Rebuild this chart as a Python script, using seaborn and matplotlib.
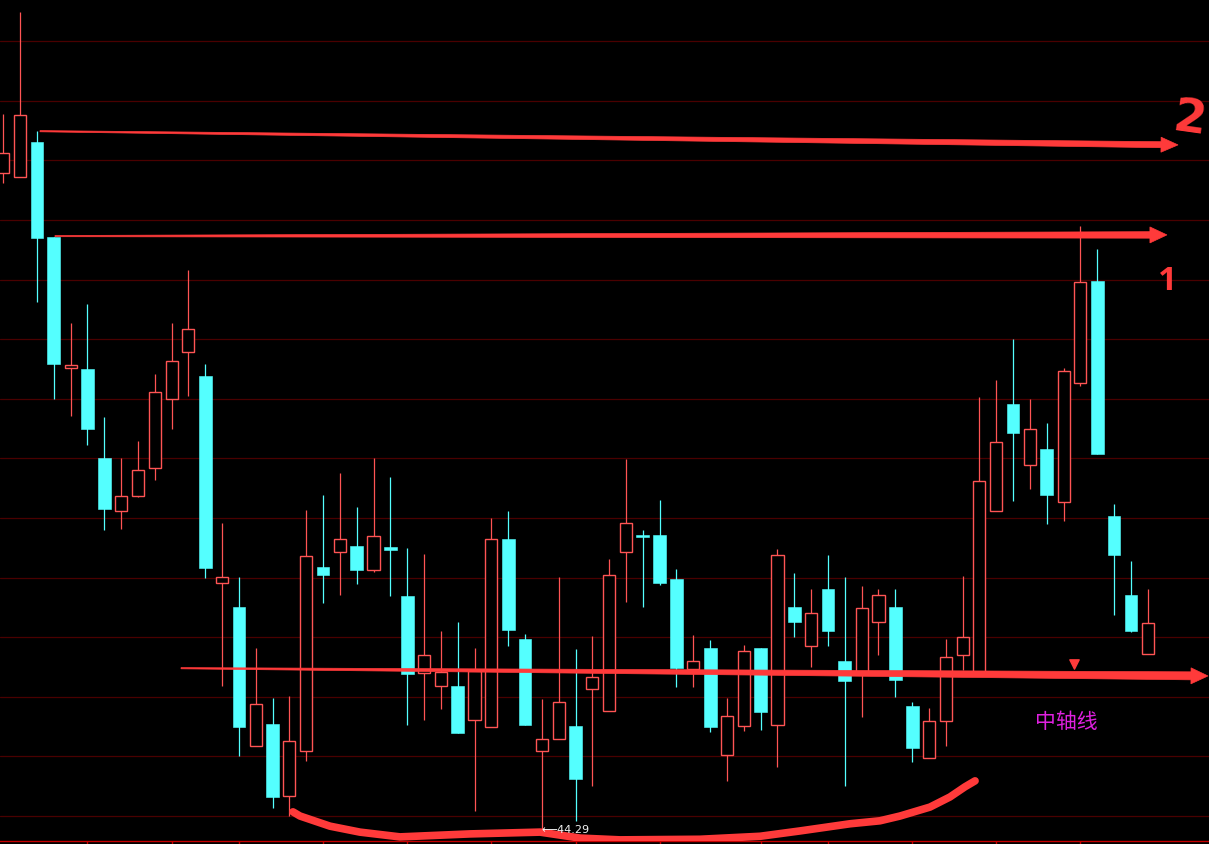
import numpy as np
import pandas as pd
import matplotlib
matplotlib.use("Agg")
import matplotlib.pyplot as plt
from matplotlib.patches import Polygon
from matplotlib.transforms import IdentityTransform
import seaborn as sns

# daily candles (price units)
opens = [55.29, 55.22, 55.81, 54.21, 52.02, 52.00, 50.51, 49.62, 49.87, 50.34,
         51.50, 52.29, 51.88, 48.41, 48.01, 45.67, 46.04, 44.84, 45.59, 48.68,
         48.93, 49.03, 48.63, 49.01, 48.19, 46.90, 46.68, 46.68, 46.11, 45.99,
         49.15, 47.47, 45.59, 45.79, 46.01, 46.63, 46.26, 48.93, 49.21, 49.21,
         48.48, 46.97, 47.32, 45.52, 46.01, 47.32, 46.03, 48.01, 47.35, 48.31,
         47.10, 46.92, 47.75, 48.01, 46.35, 45.47, 46.09, 47.20, 46.87, 49.62,
         51.41, 50.39, 50.66, 49.77, 51.77, 53.48, 49.53, 48.21, 47.22]
closes = [55.62, 56.26, 54.20, 52.08, 52.07, 50.99, 49.65, 49.87, 50.31, 51.61,
          52.13, 52.67, 48.66, 48.51, 45.99, 46.38, 44.82, 45.76, 48.86, 48.54,
          49.15, 48.63, 49.20, 48.96, 46.88, 47.20, 46.92, 45.89, 46.93, 49.15,
          47.62, 46.03, 45.79, 46.41, 45.12, 46.83, 48.54, 49.42, 49.18, 48.41,
          46.98, 47.10, 45.99, 46.18, 47.27, 46.24, 48.88, 47.75, 47.91, 47.60,
          46.76, 47.99, 48.21, 46.78, 45.64, 46.09, 47.17, 47.50, 50.12, 50.78,
          50.93, 50.99, 49.89, 51.97, 53.46, 50.57, 48.88, 47.60, 47.74]
highs = [56.28, 57.99, 55.99, 54.21, 52.77, 53.09, 51.19, 50.51, 50.79, 51.92,
         52.77, 53.66, 52.08, 49.42, 48.51, 47.32, 46.48, 46.51, 49.63, 49.89,
         50.25, 49.68, 50.51, 50.19, 49.00, 48.90, 47.60, 47.75, 47.32, 49.50,
         49.62, 47.55, 46.46, 48.51, 47.30, 47.52, 48.81, 50.49, 49.30, 49.80,
         48.64, 47.54, 47.45, 46.48, 47.37, 47.32, 48.98, 48.58, 48.31, 48.88,
         48.51, 48.36, 48.31, 48.31, 46.41, 46.31, 47.47, 48.53, 51.53, 51.82,
         52.50, 51.50, 51.09, 52.02, 54.40, 54.01, 49.73, 48.78, 48.31]
lows = [55.12, 55.22, 53.12, 51.50, 51.21, 50.72, 49.30, 49.32, 49.85, 50.14,
        50.99, 51.55, 48.49, 46.68, 45.51, 45.67, 44.63, 44.50, 45.42, 48.07,
        48.21, 48.39, 48.59, 48.19, 46.03, 46.11, 46.30, 45.89, 44.58, 45.99,
        47.35, 46.03, 44.29, 45.79, 44.42, 45.00, 46.26, 48.09, 48.01, 48.38,
        46.66, 46.66, 45.91, 45.09, 45.93, 45.94, 45.32, 47.50, 47.00, 47.35,
        45.00, 46.16, 47.20, 46.50, 45.41, 45.47, 45.67, 46.95, 46.87, 49.62,
        49.79, 49.99, 49.40, 49.45, 51.71, 50.57, 47.87, 47.59, 47.22]

grid_levels = [44.5 + k for k in range(14)]
date_ticks = [5, 10, 14, 19, 24, 29, 34, 39, 45, 49, 54, 59, 64]

low_label = "\u27f544.29"
low_idx = 32

# hand drawn marks: (start, tip) in (candle index, price)
arrow_top = ((2.18, 55.99), (69.80, 55.76))
arrow_mid = ((3.07, 54.23), (69.14, 54.25))
arrow_axis = ((10.56, 46.98), (71.58, 46.85))
smile_x = [17.21, 17.63, 19.41, 21.19, 23.57, 27.73, 31.89, 34.27, 36.64, 41.40,
           44.96, 47.34, 50.31, 52.09, 53.28, 55.06, 56.25, 57.14, 57.74]
smile_y = [44.57, 44.50, 44.33, 44.23, 44.15, 44.20, 44.23, 44.13, 44.10, 44.11,
           44.16, 44.25, 44.37, 44.42, 44.50, 44.65, 44.82, 44.99, 45.09]
marker_pos = (63.62, 47.05)

UP = "#ff5454"
DOWN = "#54ffff"
PEN = "#ff3a3a"

df = pd.DataFrame({"open": opens, "close": closes, "high": highs, "low": lows})
df["idx"] = np.arange(len(df))
df["up"] = df["close"] >= df["open"]
df["bottom"] = df[["open", "close"]].min(axis=1)
df["height"] = (df["close"] - df["open"]).abs().clip(lower=0.03)

sns.set_theme(style="dark", rc={"axes.facecolor": "black", "figure.facecolor": "black",
                                "savefig.facecolor": "black"})
plt.rcParams["font.family"] = ["DejaVu Sans", "Noto Sans CJK SC"]

fig = plt.figure(figsize=(12.09, 8.45), dpi=100)
ax = fig.add_axes([0, 3 / 845, 1, 842 / 845])
ax.set_xlim(-0.196, 71.64)
ax.set_ylim(44.081, 58.208)

for lv in grid_levels:
    ax.axhline(lv, color="#4a0000", lw=0.9, zorder=1)

up = df[df["up"]]
dn = df[~df["up"]]
ax.vlines(up["idx"], up["low"], up["high"], color=UP, lw=0.9, zorder=2)
ax.vlines(dn["idx"], dn["low"], dn["high"], color=DOWN, lw=0.9, zorder=2)
ax.bar(up["idx"], up["height"], bottom=up["bottom"], width=0.72,
       facecolor="black", edgecolor=UP, linewidth=1.0, zorder=3)
ax.bar(dn["idx"], dn["height"], bottom=dn["bottom"], width=0.76,
       facecolor=DOWN, edgecolor=DOWN, linewidth=0.4, zorder=3)

ax.text(low_idx, lows[low_idx], low_label, ha="left", va="center", fontsize=8,
        family="DejaVu Sans", color="#f2f2f2", zorder=6)


def taper_arrow(ax, start, tip, w0, w1, head_len, head_w):
    p0 = ax.transData.transform(start)
    p1 = ax.transData.transform(tip)
    d = p1 - p0
    u = d / np.hypot(*d)
    n = np.array([-u[1], u[0]])
    b = p1 - u * head_len
    pts = [p0 + n * w0 / 2, b + n * w1 / 2, b + n * head_w / 2, p1,
           b - n * head_w / 2, b - n * w1 / 2, p0 - n * w0 / 2]
    ax.add_patch(Polygon(pts, closed=True, transform=IdentityTransform(),
                         facecolor=PEN, edgecolor=PEN, lw=0.5, zorder=5))


taper_arrow(ax, *arrow_top, 1.2, 6.0, 17, 15)
taper_arrow(ax, *arrow_mid, 1.2, 6.5, 17, 16)
taper_arrow(ax, *arrow_axis, 1.2, 8.0, 17, 16)

sns.lineplot(x=smile_x, y=smile_y, ax=ax, color=PEN, linewidth=5.5,
             solid_capstyle="round", sort=False, zorder=5)
ax.scatter([marker_pos[0]], [marker_pos[1]], marker="v", s=45, color=PEN, zorder=6)

ax.text(70.45, 56.19, "2", ha="center", va="center", fontsize=34, fontweight="bold",
        color=PEN, rotation=-8, zorder=6)
ax.text(69.2, 53.49, "1", ha="center", va="center", fontsize=24, fontweight="bold",
        family="Open Sans", color=PEN, zorder=6)
ax.text(63.14, 46.09, "中轴线", ha="center", va="center", fontsize=15,
        family=["Noto Sans CJK SC", "DejaVu Sans"], color="#e020e0", zorder=6)

for side in ["top", "left", "right"]:
    ax.spines[side].set_visible(False)
ax.spines["bottom"].set_color("#c80000")
ax.spines["bottom"].set_linewidth(1.0)
ax.set_xticks(date_ticks)
ax.set_xticklabels([])
ax.set_yticks([])
ax.tick_params(axis="x", direction="out", length=3, width=1, color="#c80000", bottom=True)
ax.grid(False)

fig.savefig("out.png", dpi=100, facecolor="black")
